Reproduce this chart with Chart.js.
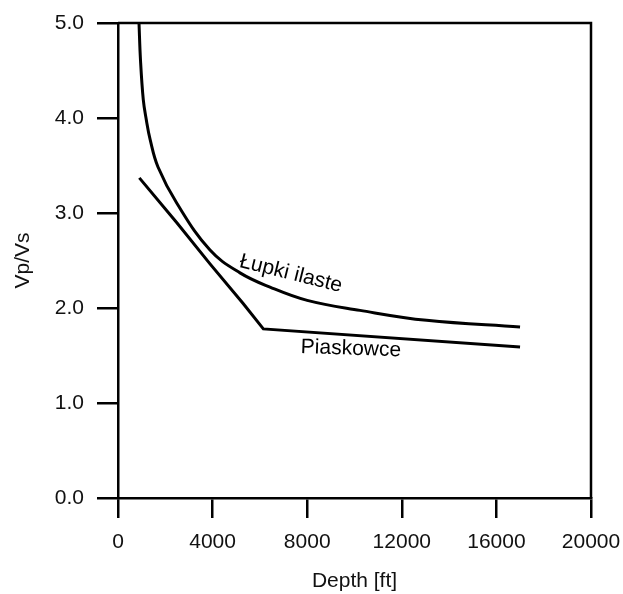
<!DOCTYPE html>
<html>
<head>
<meta charset="utf-8">
<script src="https://cdn.jsdelivr.net/npm/chart.js@4/dist/chart.umd.min.js"></script>
<style>
  html, body { margin: 0; padding: 0; background: #fff; }
  #wrap { width: 623px; height: 594px; position: relative; }
</style>
</head>
<body>
<div id="wrap"><canvas id="c" width="623" height="594"></canvas></div>
<script>
// ---- Data ----
const xTicks = [0, 4000, 8000, 12000, 16000, 20000];
const yTicks = [0, 1, 2, 3, 4, 5];

const shaleDepth = [888, 951, 1070, 1184, 1362, 1691, 2482, 3890, 5159, 6427, 8000, 10230, 13050, 17000];
const shaleRatio = [5.0, 4.61, 4.19, 4.0, 3.77, 3.484, 3.105, 2.61, 2.37, 2.22, 2.08, 1.975, 1.87, 1.80];

const sandDepth = [902, 2480, 3890, 5300, 6145, 17000];
const sandRatio = [3.37, 2.90, 2.465, 2.045, 1.78, 1.59];

const labelTexts = ["Łupki ilaste", "Piaskowce"];
const labelDepths = [7310, 9850];
const labelRatios = [2.36, 1.57];
const labelAngles = [14, 2];

const toPts = (xs, ys) => xs.map((x, i) => ({ x: x, y: ys[i] }));

const FONT = "'Liberation Sans', Arial, Helvetica, sans-serif";

const framePlugin = {
  id: 'frame',
  afterDatasetsDraw(chart) {
    const { ctx, chartArea: a } = chart;
    ctx.save();
    ctx.strokeStyle = '#000';
    ctx.lineWidth = 2.5;
    ctx.beginPath();
    ctx.moveTo(a.left, a.top);
    ctx.lineTo(a.right, a.top);
    ctx.lineTo(a.right, a.bottom);
    ctx.stroke();
    // curve labels
    ctx.fillStyle = '#000';
    ctx.font = '21px ' + FONT;
    ctx.textAlign = 'center';
    ctx.textBaseline = 'middle';
    labelTexts.forEach((t, i) => {
      const px = chart.scales.x.getPixelForValue(labelDepths[i]);
      const py = chart.scales.y.getPixelForValue(labelRatios[i]);
      ctx.save();
      ctx.translate(px, py);
      ctx.rotate(labelAngles[i] * Math.PI / 180);
      ctx.fillText(t, 0, 0);
      ctx.restore();
    });
    ctx.restore();
  }
};

new Chart(document.getElementById('c'), {
  type: 'scatter',
  data: {
    datasets: [
      {
        label: 'Łupki ilaste',
        data: toPts(shaleDepth, shaleRatio),
        showLine: true,
        borderColor: '#000',
        borderWidth: 3,
        pointRadius: 0,
        tension: 0.4,
        fill: false
      },
      {
        label: 'Piaskowce',
        data: toPts(sandDepth, sandRatio),
        showLine: true,
        borderColor: '#000',
        borderWidth: 3,
        pointRadius: 0,
        tension: 0,
        fill: false
      }
    ]
  },
  options: {
    responsive: false,
    animation: false,
    events: [],
    layout: { padding: { left: 11, right: 32, top: 23, bottom: 0 } },
    plugins: { legend: { display: false }, tooltip: { enabled: false } },
    scales: {
      x: {
        type: 'linear',
        min: 0, max: 20000,
        afterBuildTicks: (s) => { s.ticks = xTicks.map(v => ({ value: v })); },
        afterFit: (s) => { s.height = 96; s.paddingLeft = 0; s.paddingRight = 0; },
        grid: { drawOnChartArea: false, drawTicks: true, tickLength: 20, color: '#000', lineWidth: 2.5 },
        border: { display: true, color: '#000', width: 2.5 },
        ticks: { color: '#111', font: { family: FONT, size: 21 }, padding: 12, maxRotation: 0, autoSkip: false, callback: (v) => String(v) },
        title: { display: true, text: 'Depth [ft]', color: '#111', font: { family: FONT, size: 21 }, padding: { top: 0, bottom: 0 } }
      },
      y: {
        type: 'linear',
        min: 0, max: 5,
        afterBuildTicks: (s) => { s.ticks = yTicks.map(v => ({ value: v })); },
        afterFit: (s) => { s.width = 107; s.paddingTop = 0; s.paddingBottom = 0; },
        grid: { drawOnChartArea: false, drawTicks: true, tickLength: 21, color: '#000', lineWidth: 2.5 },
        border: { display: true, color: '#000', width: 2.5 },
        ticks: { color: '#111', font: { family: FONT, size: 21 }, padding: 13, callback: (v) => Number(v).toFixed(1) },
        title: { display: true, text: 'Vp/Vs', color: '#111', font: { family: FONT, size: 21 }, padding: { top: 0, bottom: 0 } }
      }
    }
  },
  plugins: [framePlugin]
});
</script>
</body>
</html>
